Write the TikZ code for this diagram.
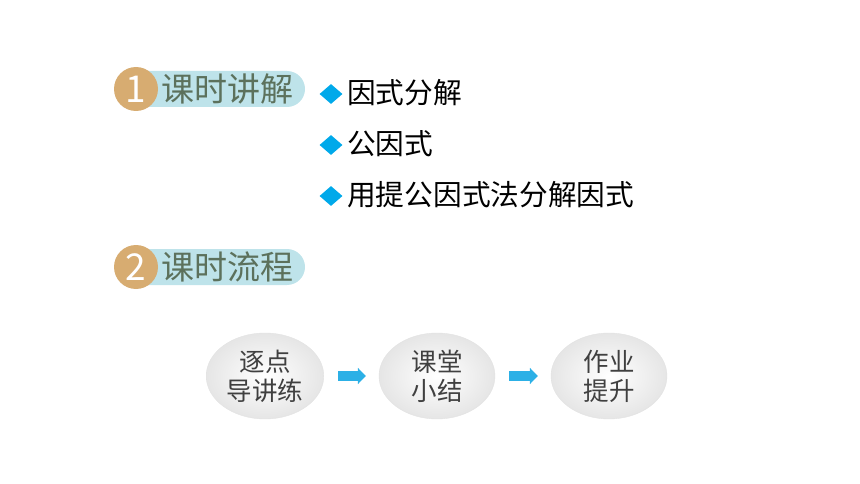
\documentclass[tikz,border=0pt]{standalone}
\usepackage{fontspec}
\usepackage{xcolor}
\usepackage{tikz}
\usetikzlibrary{shapes.geometric,arrows.meta}
\newfontfamily\cjk{Noto Sans CJK SC}
\definecolor{orangeNum}{HTML}{D7AC71}
\definecolor{bleuBande}{HTML}{BEE3EA}
\definecolor{vertTitre}{HTML}{5C715C}
\definecolor{bleuPuce}{HTML}{00A9EA}
\definecolor{bleuFleche}{HTML}{2CB0E6}
\definecolor{grisTexte}{HTML}{404040}

\begin{document}
\begin{tikzpicture}[x=1pt,y=-1pt]
% Styles (MODIFIABLES)
\tikzstyle{bande}=[fill=bleuBande,rounded corners=18pt]
\tikzstyle{numero}=[fill=orangeNum,circle,minimum size=44pt,inner sep=0pt,text=white,font=\cjk\fontsize{37}{37}\selectfont]
\tikzstyle{titre}=[anchor=west,inner sep=0pt,text=vertTitre,font=\cjk\fontsize{33}{33}\selectfont]
\tikzstyle{puce}=[fill=bleuPuce,diamond,minimum width=23pt,minimum height=20pt,inner sep=0pt]
\tikzstyle{item}=[anchor=west,inner sep=0pt,font=\cjk\fontsize{28.7}{28.7}\selectfont]
\tikzstyle{etape}=[ellipse,minimum width=116pt,minimum height=86pt,draw=gray!22,inner color=white,outer color=gray!20,text=grisTexte,align=center,font=\cjk\fontsize{25.5}{29}\selectfont]
\tikzstyle{fleche}=[-{Triangle[length=8pt,width=16pt]},line width=10pt,bleuFleche,shorten <=14pt,shorten >=13pt]
% Dimensions (MODIFIABLES)
\def\TitreA{89}
\def\TitreB{267}
\def\InterItems{51}
\def\InterEtapes{172}
% Cadre
\useasboundingbox (0,0) rectangle (860,484);
% Titres
\fill[bande] (120,{\TitreA-18}) rectangle (305,{\TitreA+18});
\node[numero] (N1) at (136,\TitreA) {1};
\node[titre] (T1) at (161,\TitreA) {课时讲解};
\fill[bande] (120,{\TitreB-18}) rectangle (305,{\TitreB+18});
\node[numero] (N2) at (136,\TitreB) {2};
\node[titre] (T2) at (161,\TitreB) {课时流程};
% Liste
\node[puce] (Pa) at (331,{94}) {};
\node[item] (Ia) at (347,{93}) {因式分解};
\node[puce] (Pb) at (331,{94+\InterItems}) {};
\node[item] (Ib) at (347,{93+\InterItems}) {公因式};
\node[puce] (Pc) at (331,{94+2*\InterItems}) {};
\node[item] (Ic) at (347,{93+2*\InterItems}) {用提公因式法分解因式};
% Etapes
\node[etape] (Ea) at ({265},376) {逐点\\导讲练};
\node[etape] (Eb) at ({265+\InterEtapes},376) {课堂\\小结};
\node[etape] (Ec) at ({265+2*\InterEtapes},376) {作业\\提升};
% Fleches
\draw[fleche] (Ea)--(Eb);
\draw[fleche] (Eb)--(Ec);
\end{tikzpicture}
\end{document}
